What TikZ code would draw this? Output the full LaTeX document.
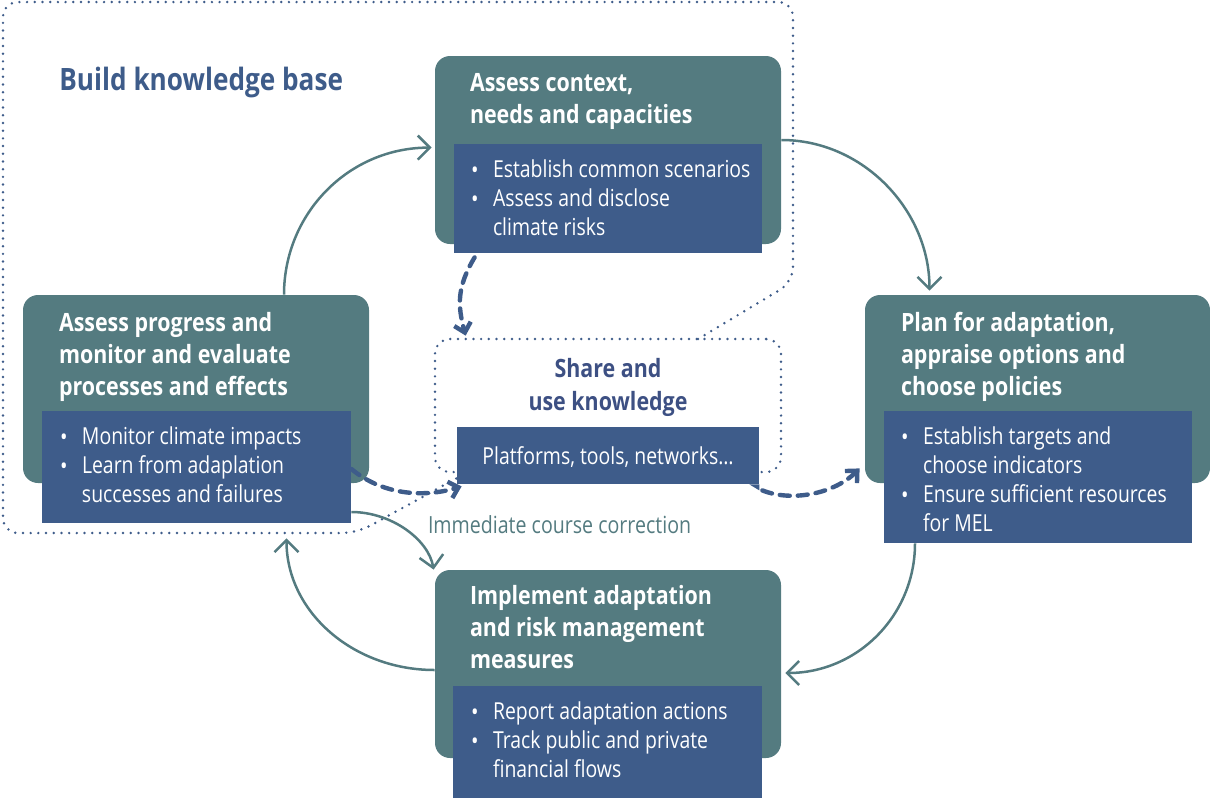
\documentclass[tikz,border=0pt]{standalone}
\usepackage{fontspec}
\setmainfont{Open Sans}[FakeStretch=0.83, BoldFeatures={FakeStretch=0.85}]
\usetikzlibrary{arrows.meta,fit,positioning}

\definecolor{tealbox}{HTML}{547B80}
\definecolor{navybox}{HTML}{3E5C8A}
\definecolor{navytext}{HTML}{3D5083}

\newcommand\itm{\makebox[11pt][l]{\raisebox{-0.3pt}{\large\textbullet}}}
\newcommand\ind{\hspace*{11pt}}

\tikzset{
  stage/.style={fill=tealbox, rounded corners=7.5pt, inner sep=0pt},
  detail/.style={fill=navybox, inner sep=0pt},
  head/.style={text=white, font=\bfseries\fontsize{12.6}{16}\selectfont,
    align=left, anchor=base west, inner sep=0pt},
  items/.style={text=white, font=\fontsize{11.7}{14.5}\selectfont,
    align=left, anchor=base west, inner sep=0pt},
  kbase/.style={draw=navybox, line width=1.35pt, dash pattern=on 0pt off 3.85pt,
    line cap=round, rounded corners=7.5pt},
  cycle/.style={draw=tealbox, line width=1.25pt,
    -{Straight Barb[length=6pt,width=12pt]}},
  share/.style={draw=navybox, line width=2.2pt, dash pattern=on 5pt off 4pt,
    line cap=round, -{Straight Barb[length=4.5pt,width=8.5pt]}}
}

\begin{document}
\begin{tikzpicture}[x=0.5pt,y=-0.5pt]
\useasboundingbox (0,0) rectangle (1210,798);

% knowledge base outline
\node[kbase, inner sep=0pt, fit={(435,339) (781,472)}] (know) {};
\draw[kbase] (698,339) -- (793,282) -- (793,2) -- (3,2) -- (3,533)
  -- (357,533) -- (457,478);

\node[anchor=base west, inner sep=0pt, text=navybox,
  font=\bfseries\fontsize{15.4}{18}\selectfont] (kbtitle) at (59,90) {Build knowledge base};

% assess context
\node[stage, fit={(435,56) (781,244)}] (ctx) {};
\node[detail, fit={(454,144) (762,253)}] (ctxD) {};
\node[head] (ctxH) at ([shift={(35,68)}]ctx.north west) {Assess context,\\needs and capacities};
\node[items] (ctxI) at ([shift={(17,92)}]ctxD.north west)
  {\itm Establish common scenarios\\\itm Assess and disclose\\\ind climate risks};

% plan
\node[stage, fit={(865,295) (1210,483)}] (plan) {};
\node[detail, fit={(884,411) (1192,543)}] (planD) {};
\node[head] (planH) at ([shift={(36,101)}]plan.north west)
  {Plan for adaptation,\\appraise options and\\choose policies};
\node[items] (planI) at ([shift={(17,121)}]planD.north west)
  {\itm Establish targets and\\\ind choose indicators\\\itm Ensure sufficient resources\\\ind for MEL};

% implement
\node[stage, fit={(435,570) (781,758)}] (impl) {};
\node[detail, fit={(453,686) (762,798)}] (implD) {};
\node[head] (implH) at ([shift={(35,99)}]impl.north west)
  {Implement adaptation\\and risk management\\measures};
\node[items] (implI) at ([shift={(18,92)}]implD.north west)
  {\itm Report adaptation actions\\\itm Track public and private\\\ind financial flows};

% assess progress
\node[stage, fit={(23,295) (369,483)}] (prog) {};
\node[detail, fit={(42,411) (351,523)}] (progD) {};
\node[head] (progH) at ([shift={(36,101)}]prog.north west)
  {Assess progress and\\monitor and evaluate\\processes and effects};
\node[items] (progI) at ([shift={(18,92)}]progD.north west)
  {\itm Monitor climate impacts\\\itm Learn from adaplation\\\ind successes and failures};

% share and use knowledge
\node[anchor=base, align=center, inner sep=0pt, text=navytext,
  font=\bfseries\fontsize{12.6}{16.5}\selectfont] (knowH) at ([shift={(0,73)}]know.north)
  {Share and\\use knowledge};
\node[detail, fit={(457,427) (759,484)}] (plat) {};
\fill[navybox] (plat.south east) -- ++(0,6) -- ++(-10,-6) -- cycle;
\node[text=white, font=\fontsize{11.7}{14.5}\selectfont] (platT) at ([shift={(0,2)}]plat.center)
  {Platforms, tools, networks\dots};

% cycle
\draw[cycle] ([shift={(88,0)}]prog.north) .. controls +(0,-81) and +(-83,0) .. ([shift={(-3,92)}]ctx.north west);
\draw[cycle] ([shift={(0,-10)}]ctx.east) .. controls +(82,0) and +(0,-80) .. ([shift={(-108,-4)}]plan.north);
\draw[cycle] ([shift={(-123,0)}]planD.south) .. controls +(0,72) and +(72,0) .. ([shift={(4,9)}]impl.east);
\draw[cycle] ([shift={(0,6)}]impl.west) .. controls +(-82,0) and +(0,73) .. ([shift={(90,15)}]progD.south);
\draw[cycle] ([shift={(0,45)}]progD.east) .. controls +(40,0) and +(-5,-30) .. ([shift={(-1,0)}]impl.north west);

% knowledge flows
\draw[share] ([shift={(21,4)}]ctxD.south west) .. controls +(-18,30) and +(-8,-30) .. ([shift={(32,-2)}]know.north west);
\draw[share] ([shift={(0,2)}]progD.east) .. controls +(30,25) and +(-40,12) .. ([shift={(5,2)}]plat.south west);
\draw[share] ([shift={(3,6)}]plat.south east) .. controls +(30,12) and +(-25,25) .. ([shift={(-5,-15)}]plan.south west);

\node[anchor=base west, inner sep=0pt, text=tealbox, font=\fontsize{11.8}{14}\selectfont]
  (fix) at ([shift={(-29,49)}]plat.south west) {Immediate course correction};
\end{tikzpicture}
\end{document}
